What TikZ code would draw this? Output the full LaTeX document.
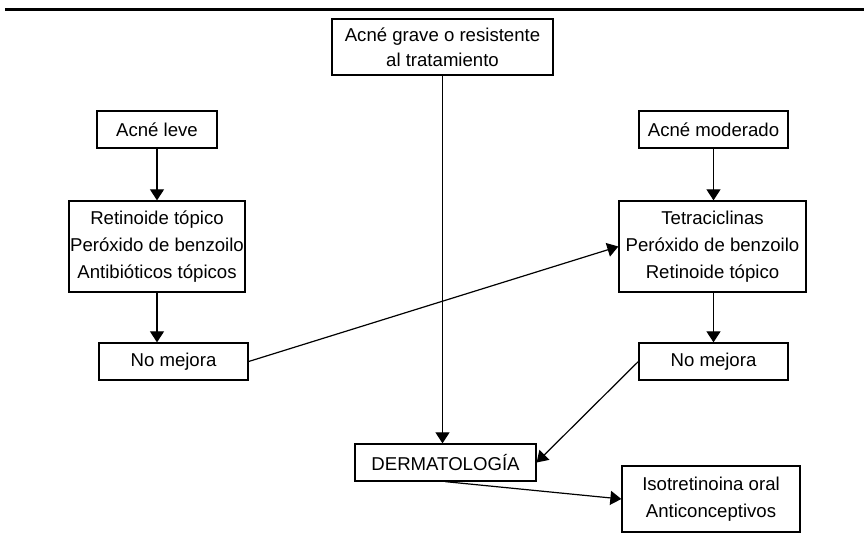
\documentclass[tikz,border=0pt]{standalone}
\usepackage{fontspec}
\setmainfont{Liberation Sans}
\usetikzlibrary{arrows.meta}
\begin{document}
\begin{tikzpicture}[x=1pt,y=-1pt,
  box/.style={draw, line width=1.3pt, inner sep=0pt, align=center,
    font=\fontsize{18.6}{27}\selectfont},
  conn/.style={line width=1.2pt, -{Triangle[width=14pt,length=11pt]}}]
\useasboundingbox (0,0) rectangle (864,551);
\draw[line width=3pt] (5,10) -- (864,10);
\node[box, minimum width=221pt, minimum height=56pt, font=\fontsize{18.6}{25}\selectfont] (top) at (442.5,47) {Acné grave o resistente\\al tratamiento};
\node[box, minimum width=120pt, minimum height=37pt] (leve) at (157,129.5) {Acné leve};
\node[box, minimum width=176pt, minimum height=91pt] (trL) at (157,246.5) {Retinoide tópico\\Peróxido de benzoilo\\Antibióticos tópicos};
\node[box, minimum width=149pt, minimum height=37pt] (nmL) at (173.5,361.5) {No mejora};
\node[box, minimum width=149pt, minimum height=37pt] (mod) at (713.5,129.5) {Acné moderado};
\node[box, minimum width=187pt, minimum height=91pt] (trR) at (712.5,246.5) {Tetraciclinas\\Peróxido de benzoilo\\Retinoide tópico};
\node[box, minimum width=149pt, minimum height=37pt] (nmR) at (713.5,361.5) {No mejora};
\node[box, minimum width=181pt, minimum height=37pt] (derm) at (445.5,462.5) {DERMATOLOGÍA};
\node[box, minimum width=178pt, minimum height=66pt] (iso) at (711,499) {Isotretinoina oral\\Anticonceptivos};
\draw[conn] (leve.south) -- (trL.north);
\draw[conn] (trL.south) -- (trL.south |- nmL.north);
\draw[conn] (mod.south) -- (mod.south |- trR.north);
\draw[conn] (mod.south |- trR.south) -- (nmR.north);
\draw[conn] (top.south) -- (top.south |- derm.north);
\draw[conn] (nmL.east) -- (trR.west);
\draw[conn] (nmR.west) -- (derm.east);
\draw[conn] (derm.south) -- (iso.west);
\end{tikzpicture}
\end{document}
